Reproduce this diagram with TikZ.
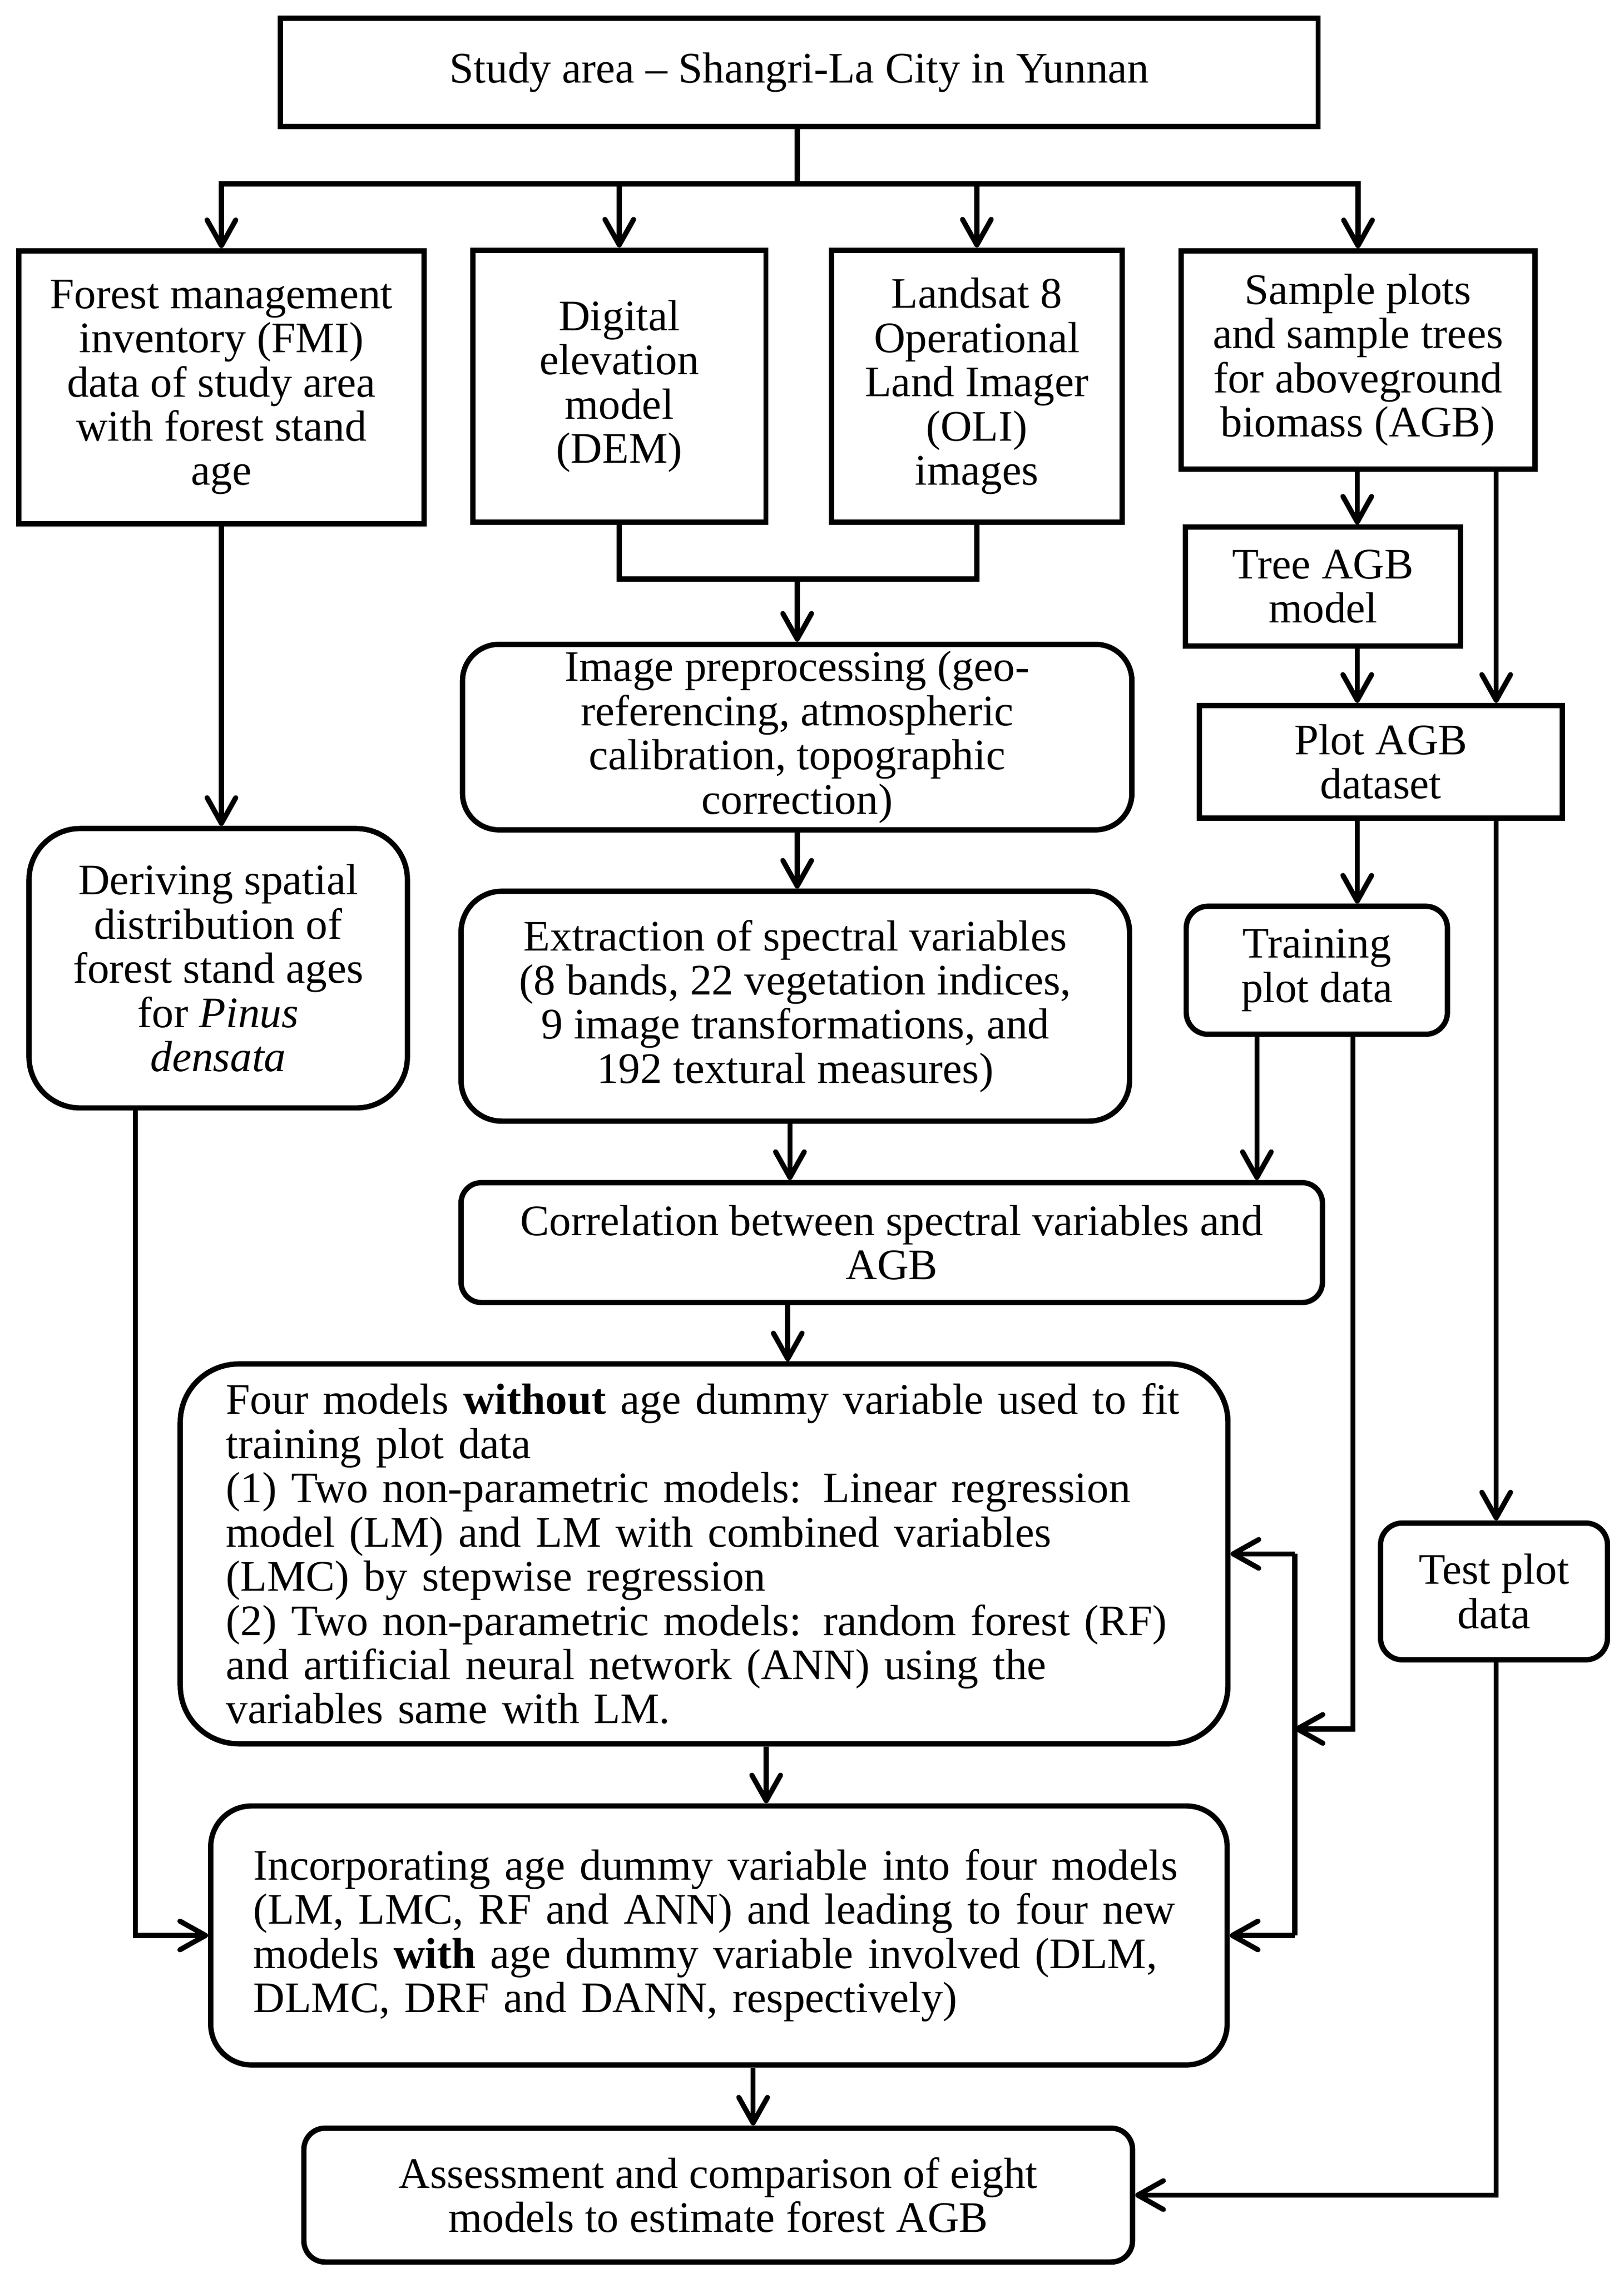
\documentclass[tikz,border=0pt]{standalone}
\usepackage{fontspec}
\setmainfont{Liberation Serif}
\usetikzlibrary{arrows.meta}
\tikzset{
  box/.style={draw, line width=2.6pt, inner sep=0pt, align=center, font=\fontsize{21.3}{21.6}\selectfont},
  rbox/.style={box, rounded corners=#1},
  link/.style={line width=2.5pt},
  arr/.style={link, -{Straight Barb[length=12.5pt,width=14pt,round]}}
}
\begin{document}
\begin{tikzpicture}[x=0.025cm,y=-0.025cm]
\useasboundingbox (0,0) rectangle (1116,1566);
\node[box, minimum width=17.825cm, minimum height=1.865cm] (study) at (549.5,49.7) {Study area – Shangri-La City in Yunnan};
\node[box, minimum width=6.9625cm, minimum height=4.6875cm] (fmi) at (152.2,266.2) {Forest management\\inventory (FMI)\\data of study area\\with forest stand\\age};
\node[box, minimum width=5.0375cm, minimum height=4.675cm] (dem) at (425.7,265.5) {Digital\\elevation\\model\\(DEM)};
\node[box, minimum width=5cm, minimum height=4.675cm] (oli) at (671.5,265.5) {Landsat 8\\Operational\\Land Imager\\(OLI)\\images};
\node[box, minimum width=6.075cm, minimum height=3.75cm] (sample) at (933.5,247.5) {Sample plots\\and sample trees\\for aboveground\\biomass (AGB)};
\node[box, minimum width=4.725cm, minimum height=2.0375cm] (tree) at (909.5,403.2) {Tree AGB\\model};
\node[box, minimum width=6.2375cm, minimum height=1.9375cm] (plotagb) at (949.2,523.7) {Plot AGB\\dataset};
\node[rbox=0.625cm, minimum width=11.5cm, minimum height=3.1875cm] (prep) at (548,506.7) {Image preprocessing (geo-\\referencing, atmospheric\\calibration, topographic\\correction)};
\node[rbox=0.875cm, minimum width=6.5cm, minimum height=4.8cm] (derive) at (150,665.6) {Deriving spatial\\distribution of\\forest stand ages\\for \textit{Pinus}\\\textit{densata}};
\node[rbox=0.7cm, minimum width=11.485cm, minimum height=3.95cm] (extract) at (546.7,691.7) {Extraction of spectral variables\\(8 bands, 22 vegetation indices,\\9 image transformations, and\\192 textural measures)};
\node[rbox=0.375cm, minimum width=4.4875cm, minimum height=2.2cm] (train) at (905.2,667) {Training\\plot data};
\node[rbox=0.35cm, minimum width=14.8cm, minimum height=2.06cm] (corr) at (613,854.2) {Correlation between spectral variables and\\AGB};
\node[rbox=1cm, minimum width=18cm, minimum height=6.525cm, text width=16.425cm, align=left] (four) at (484,1068.2) {Four models \textbf{without} age dummy variable used to fit\\training plot data\\(1) Two non-parametric models: Linear regression\\model (LM) and LM with combined variables\\(LMC) by stepwise regression\\(2) Two non-parametric models: random forest (RF)\\and artificial neural network (ANN) using the\\variables same with LM.};
\node[rbox=0.375cm, minimum width=3.9cm, minimum height=2.35cm] (test) at (1027,1094) {Test plot\\data};
\node[rbox=0.7cm, minimum width=17.4625cm, minimum height=4.45cm, text width=16cm, align=left] (incorp) at (494.2,1330.5) {Incorporating age dummy variable into four models\\(LM, LMC, RF and ANN) and leading to four new\\models \textbf{with} age dummy variable involved (DLM,\\DLMC, DRF and DANN, respectively)};
\node[rbox=0.365cm, minimum width=14.2375cm, minimum height=2.3cm] (assess) at (493.7,1509) {Assessment and comparison of eight\\models to estimate forest AGB};

\coordinate (split) at (548,126.5);
\coordinate (join) at (548,398);
\coordinate (colA) at (933,0);
\coordinate (colB) at (1028.5,0);
\coordinate (colE) at (543,0);
\coordinate (colT) at (864,0);
\coordinate (colR) at (930,0);
\coordinate (colV) at (890,0);
\coordinate (colC) at (541.5,0);
\coordinate (colF) at (526.7,0);
\coordinate (colI) at (517.7,0);
\coordinate (colD) at (93,0);
\coordinate (feed) at (890,1188.5);

\draw[link] (study.south -| split) -- (split);
\foreach \n in {fmi,dem,oli,sample}
  \draw[arr] (split) -| (\n.north);
\draw[arr] (fmi.south) -- (fmi.south |- derive.north);
\draw[link] (dem.south) |- (join) -| (oli.south);
\draw[arr] (join) -- (prep.north);
\draw[arr] (sample.south -| colA) -- (tree.north -| colA);
\draw[arr] (sample.south -| colB) -- (plotagb.north -| colB);
\draw[arr] (tree.south -| colA) -- (plotagb.north -| colA);
\draw[arr] (plotagb.south -| colA) -- (train.north -| colA);
\draw[arr] (plotagb.south -| colB) -- (test.north -| colB);
\draw[arr] (prep.south) -- (prep.south |- extract.north);
\draw[arr] (extract.south -| colE) -- (corr.north -| colE);
\draw[arr] (train.south -| colT) -- (corr.north -| colT);
\draw[arr] (corr.south -| colC) -- (four.north -| colC);
\draw[arr] (four.south -| colF) -- (incorp.north -| colF);
\draw[arr] (incorp.south -| colI) -- (assess.north -| colI);
\draw[arr] (train.south -| colR) |- (feed);
\draw[link] (four.east -| colV) -- (incorp.east -| colV);
\draw[arr] (four.east -| colV) -- (four.east);
\draw[arr] (incorp.east -| colV) -- (incorp.east);
\draw[arr] (derive.south -| colD) |- (incorp.west);
\draw[arr] (test.south -| colB) |- (assess.east);
\end{tikzpicture}
\end{document}
